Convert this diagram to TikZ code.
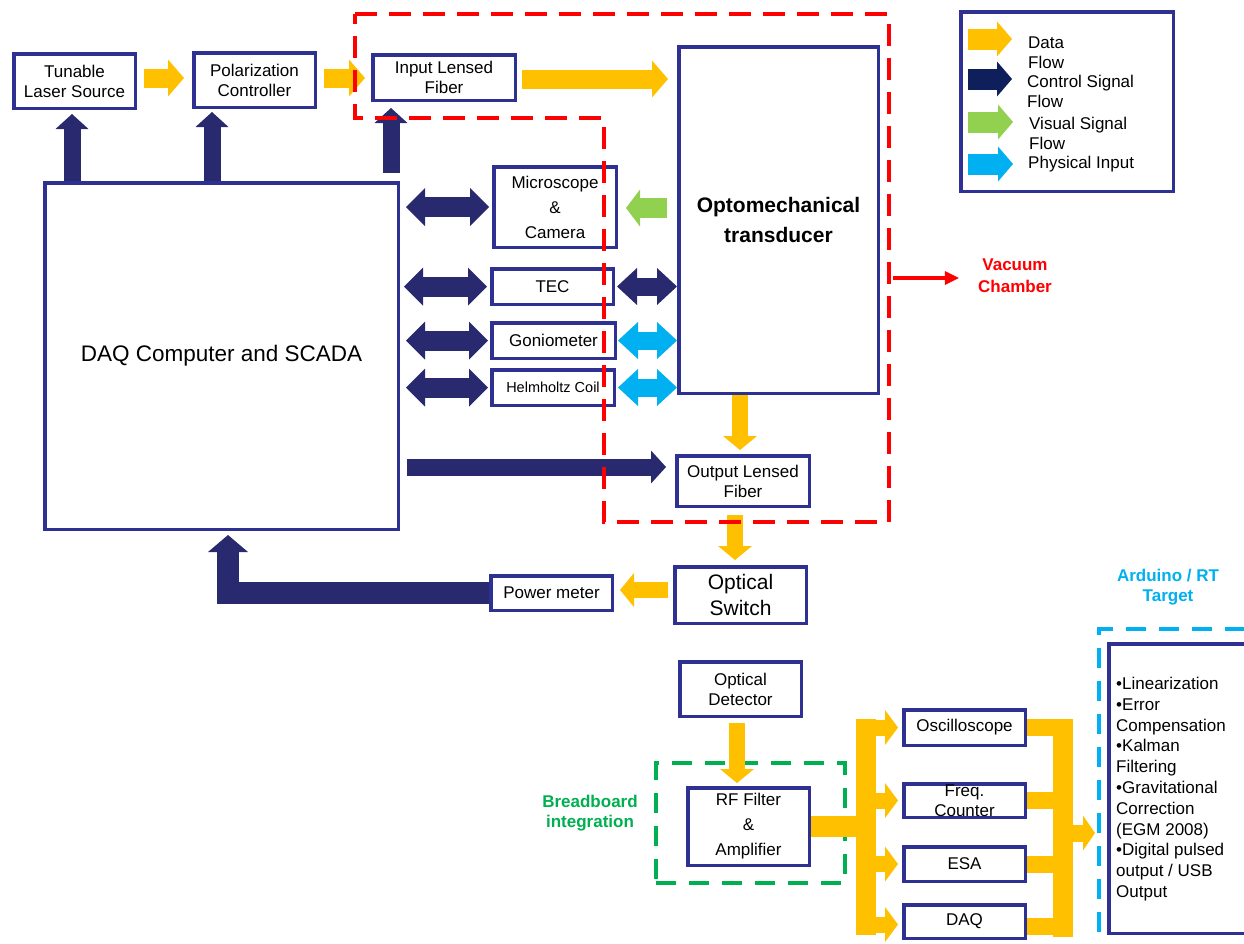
\documentclass[tikz,border=0pt]{standalone}
\usepackage{fontspec}
\setmainfont{Liberation Sans}
\usetikzlibrary{arrows.meta,calc}
\definecolor{cbox}{HTML}{2E3192}
\definecolor{cnavy}{HTML}{29296F}
\definecolor{cnavyleg}{HTML}{0F1F5C}
\definecolor{cyel}{HTML}{FFC000}
\definecolor{cgrn}{HTML}{92D050}
\definecolor{ccyan}{HTML}{00B0F0}
\definecolor{cred}{HTML}{FF0000}
\definecolor{cbb}{HTML}{00B050}
\tikzset{
  box/.style={draw=cbox, line width=3.5pt, fill=white, align=center, inner sep=0pt,
    font=\fontsize{17}{20}\selectfont},
  zone/.style={draw=#1, line width=4pt, dash pattern=on 20pt off 13pt, inner sep=0pt},
  lbl/.style={align=center, inner sep=0pt, font=\bfseries\fontsize{17}{20}\selectfont},
  legtxt/.style={align=left, inner sep=0pt, anchor=west, font=\fontsize{17}{20}\selectfont},
  yarr/.style={draw=cyel, line width=19pt, -{Triangle[width=37pt,length=16pt,line width=0pt]}},
  yarrs/.style={draw=cyel, line width=16pt, -{Triangle[width=34pt,length=14pt,line width=0pt]}},
  ybr/.style={draw=cyel, line width=16pt, -{Triangle[width=35pt,length=13pt,line width=0pt]}},
  yout/.style={draw=cyel, line width=17pt, -{Triangle[width=35pt,length=12pt,line width=0pt]}},
  ybus/.style={draw=cyel},
  narr/.style={draw=cnavy, line width=17pt, -{Triangle[width=33pt,length=15pt,line width=0pt]}},
  nL/.style={draw=cnavy, line width=22pt, -{Triangle[width=40pt,length=17pt,line width=0pt]}},
  ndbl/.style={draw=cnavy, line width=20pt,
    {Triangle[width=38pt,length=19pt,line width=0pt]}-{Triangle[width=38pt,length=19pt,line width=0pt]}},
  ndbls/.style={draw=cnavy, line width=18pt,
    {Triangle[width=37pt,length=20pt,line width=0pt]}-{Triangle[width=37pt,length=20pt,line width=0pt]}},
  cdbl/.style={draw=ccyan, line width=18pt,
    {Triangle[width=37pt,length=20pt,line width=0pt]}-{Triangle[width=37pt,length=20pt,line width=0pt]}},
  garr/.style={draw=cgrn, line width=20pt, -{Triangle[width=37pt,length=14pt,line width=0pt]}},
  legarr/.style={draw=#1, line width=21pt, -{Triangle[width=35pt,length=15pt,line width=0pt]}},
  vacarr/.style={draw=cred, line width=4pt, -{Triangle[width=14pt,length=14pt,line width=0pt]}},
}
\begin{document}
\begin{tikzpicture}[x=1pt,y=-1pt]
\useasboundingbox (0,0) rectangle (1244,943);
\clip (0,0) rectangle (1244,943);
\fill[white] (0,0) rectangle (1244,943);

% zones (behind)
\node[zone=cbb, minimum width=189pt, minimum height=120pt] (bbzone) at (750.5,823) {};
\node[zone=ccyan, minimum width=161pt, minimum height=319pt] (ardzone) at (1179.5,788.5) {};

% boxes
\node[box, minimum width=121.5pt, minimum height=54.5pt] (tls) at (74.5,81) {Tunable\\Laser Source};
\node[box, minimum width=121.5pt, minimum height=54.5pt] (pol) at (254.5,80) {Polarization\\Controller};
\node[box, minimum width=142.5pt, minimum height=45.5pt] (ilf) at (444,77.5) {Input Lensed\\Fiber};
\node[box, minimum width=199.5pt, minimum height=346.5pt, font=\bfseries\fontsize{21}{30}\selectfont] (opt) at (778.5,220) {Optomechanical\\transducer};
\node[box, minimum width=353.5pt, minimum height=346.5pt, font=\fontsize{22.5}{27}\selectfont] (daq) at (221.5,356) {DAQ Computer and SCADA};
\node[box, minimum width=122.5pt, minimum height=80.5pt, font=\fontsize{17}{25}\selectfont] (mic) at (555,207) {Microscope\\\&\\Camera};
\node[box, minimum width=121.5pt, minimum height=35.5pt] (tec) at (552.5,286.5) {TEC};
\node[box, minimum width=123.5pt, minimum height=35.5pt] (gon) at (553.5,340.5) {Goniometer};
\node[box, minimum width=122.5pt, minimum height=35.5pt, font=\fontsize{14.5}{17}\selectfont] (hel) at (553,387.5) {Helmholtz Coil};
\node[box, minimum width=132.5pt, minimum height=50.5pt] (olf) at (743,481) {Output Lensed\\Fiber};
\node[box, minimum width=131.5pt, minimum height=56.5pt, font=\fontsize{21}{26}\selectfont] (osw) at (740.5,595) {Optical\\Switch};
\node[box, minimum width=121.5pt, minimum height=34.5pt] (pm) at (551.5,593) {Power meter};
\node[box, minimum width=121.5pt, minimum height=54.5pt] (odet) at (740.5,689) {Optical\\Detector};
\node[box, minimum width=121.5pt, minimum height=77.5pt, font=\fontsize{17}{25}\selectfont] (rf) at (748.5,826.5) {RF Filter\\\&\\Amplifier};
\node[box, minimum width=121.5pt, minimum height=35.5pt] (osc) at (964.5,727.5) {Oscilloscope};
\node[box, minimum width=121.5pt, minimum height=33.5pt] (frq) at (964.5,800.5) {Freq.\\Counter};
\node[box, minimum width=121.5pt, minimum height=34.5pt] (esa) at (964.5,864) {ESA};
\node[box, minimum width=121.5pt, minimum height=33.5pt] (dq2) at (964.5,921.5) {DAQ};
\node[box, minimum width=139.5pt, minimum height=289.5pt] (ard) at (1178.5,788.5) {};
\node[align=left, anchor=west, inner sep=0pt, font=\fontsize{17}{20.8}\selectfont] (ardtxt) at (1116,789)
  {•Linearization\\•Error\\Compensation\\•Kalman\\Filtering\\•Gravitational\\Correction\\(EGM 2008)\\•Digital pulsed\\output / USB\\Output};
\node[box, minimum width=212.5pt, minimum height=179.5pt] (legend) at (1067,101.5) {};

% labels
\node[lbl, text=cred, font=\bfseries\fontsize{17}{22}\selectfont] (vaclbl) at (1015,276) {Vacuum\\Chamber};
\node[lbl, text=cbb] (bblbl) at (590,813) {Breadboard\\integration};
\node[lbl, text=ccyan] (ardlbl) at (1168,587) {Arduino / RT\\Target};

% legend
\coordinate (lg1a) at (968,39);  \coordinate (lg1b) at (1012,39);
\coordinate (lg2a) at (968,79);  \coordinate (lg2b) at (1012,79);
\coordinate (lg3a) at (968,122); \coordinate (lg3b) at (1013,122);
\coordinate (lg4a) at (968,164); \coordinate (lg4b) at (1013,164);
\draw[legarr=cyel] (lg1a) -- (lg1b);
\draw[legarr=cnavyleg] (lg2a) -- (lg2b);
\draw[legarr=cgrn] (lg3a) -- (lg3b);
\draw[legarr=ccyan] (lg4a) -- (lg4b);
\node[legtxt] (lgt1) at (1028,53) {Data\\Flow};
\node[legtxt] (lgt2) at (1027,91) {Control Signal\\Flow};
\node[legtxt] (lgt3) at (1029,133) {Visual Signal\\Flow};
\node[legtxt] (lgt4) at (1028,164) {Physical Input};

% top yellow chain
\draw[yarr] ([xshift=7pt,yshift=3pt]tls.east) -- ([xshift=-8pt,yshift=3pt]tls.east -| pol.west);
\draw[yarr] ([xshift=7pt,yshift=2pt]pol.east) -- ([xshift=-6pt,yshift=2pt]pol.east -| ilf.west);
\draw[yarr] ([xshift=5pt,yshift=-1.5pt]ilf.east) -- ([xshift=-9pt,yshift=-1.5pt]ilf.east -| opt.west);

% navy up arrows
\draw[narr] ([xshift=-2.5pt]tls.south |- daq.north) -- ([xshift=-2.5pt,yshift=-4pt]tls.south);
\draw[narr] ([xshift=-42.5pt]pol.south |- daq.north) -- ([xshift=-42.5pt,yshift=-3pt]pol.south);
\draw[narr] ([xshift=-53pt,yshift=8pt]ilf.south |- daq.north) -- ([xshift=-53pt,yshift=-6pt]ilf.south);

% left double arrows
\draw[ndbl] ([xshift=6pt]daq.east |- mic.west) -- ([xshift=-3pt]mic.west);
\draw[ndbl] ([xshift=4pt]daq.east |- tec.west) -- ([xshift=-3pt]tec.west);
\draw[ndbl] ([xshift=6pt]daq.east |- gon.west) -- ([xshift=-2pt]gon.west);
\draw[ndbl] ([xshift=6pt]daq.east |- hel.west) -- ([xshift=-2pt]hel.west);

% right double arrows
\draw[ndbls] ([xshift=2pt]tec.east) -- (tec.east -| opt.west);
\draw[cdbl] ([xshift=1pt]gon.east) -- (gon.east -| opt.west);
\draw[cdbl] ([xshift=2pt]hel.east) -- (hel.east -| opt.west);

% visual
\draw[garr] ([xshift=-10pt,yshift=-1pt]opt.west |- mic.east) -- ([xshift=8pt,yshift=-1pt]mic.east);

% down chain
\draw[yarrs] ([xshift=-3pt]olf.north |- opt.south) -- ([xshift=-3pt,yshift=4pt]olf.north);
\draw[yarrs] ([xshift=-8pt,yshift=-7pt]olf.south) -- ([xshift=-8pt,yshift=5pt]olf.south |- osw.north);
\draw[yarrs] ([xshift=-5pt,yshift=3pt]osw.west |- pm.east) -- ([xshift=6pt,yshift=3pt]pm.east);
\draw[nL] (pm.west) -| ([xshift=6.5pt,yshift=-4pt]daq.south);
\draw[narr] ([xshift=7pt,yshift=14pt]daq.east |- olf.west) -- ([xshift=-9pt,yshift=14pt]olf.west);

% vacuum label arrow
\draw[vacarr] ([xshift=13pt,yshift=-2pt]opt.east |- vaclbl.west) -- ([xshift=-19pt,yshift=-2pt]vaclbl.west);

% bottom chain
\draw[yarrs] ([xshift=-3.5pt,yshift=-5pt]odet.south) -- ([xshift=-3.5pt,yshift=3pt]odet.south |- rf.north);
\coordinate (bLt) at (866,719); \coordinate (bLb) at (866,935);
\draw[ybus, line width=20pt] (bLt) -- (bLb);
\draw[ybus, line width=21pt] (rf.east) -- (rf.east -| bLt);
\draw[ybr] (bLt |- osc.west) -- ([xshift=-4pt]osc.west);
\draw[ybr] (bLt |- frq.west) -- ([xshift=-4pt]frq.west);
\draw[ybr] (bLt |- esa.west) -- ([xshift=-4pt]esa.west);
\draw[ybr] ([yshift=-3pt]bLt |- dq2.west) -- ([xshift=-4pt,yshift=-3pt]dq2.west);
\coordinate (bRt) at (1063,719); \coordinate (bRb) at (1063,937);
\draw[ybus, line width=20pt] (bRt) -- (bRb);
\draw[ybus, line width=17pt] (osc.east) -- (osc.east -| bRt);
\draw[ybus, line width=17pt] (frq.east) -- (frq.east -| bRt);
\draw[ybus, line width=17pt] (esa.east) -- (esa.east -| bRt);
\draw[ybus, line width=17pt] ([yshift=-5pt]dq2.east) -- ([yshift=-5pt]dq2.east -| bRt);
\coordinate (bRo) at (1063,833);
\draw[yout] (bRo) -- ([xshift=-2pt]bRo -| ardzone.west);

% vacuum chamber outline (on top)
\draw[cred, line width=4pt, dash pattern=on 22pt off 12pt]
  (355,14) -- (889,14) -- (889,522) -- (604,522) -- (604,118) -- (355,118) -- cycle;
\end{tikzpicture}
\end{document}
